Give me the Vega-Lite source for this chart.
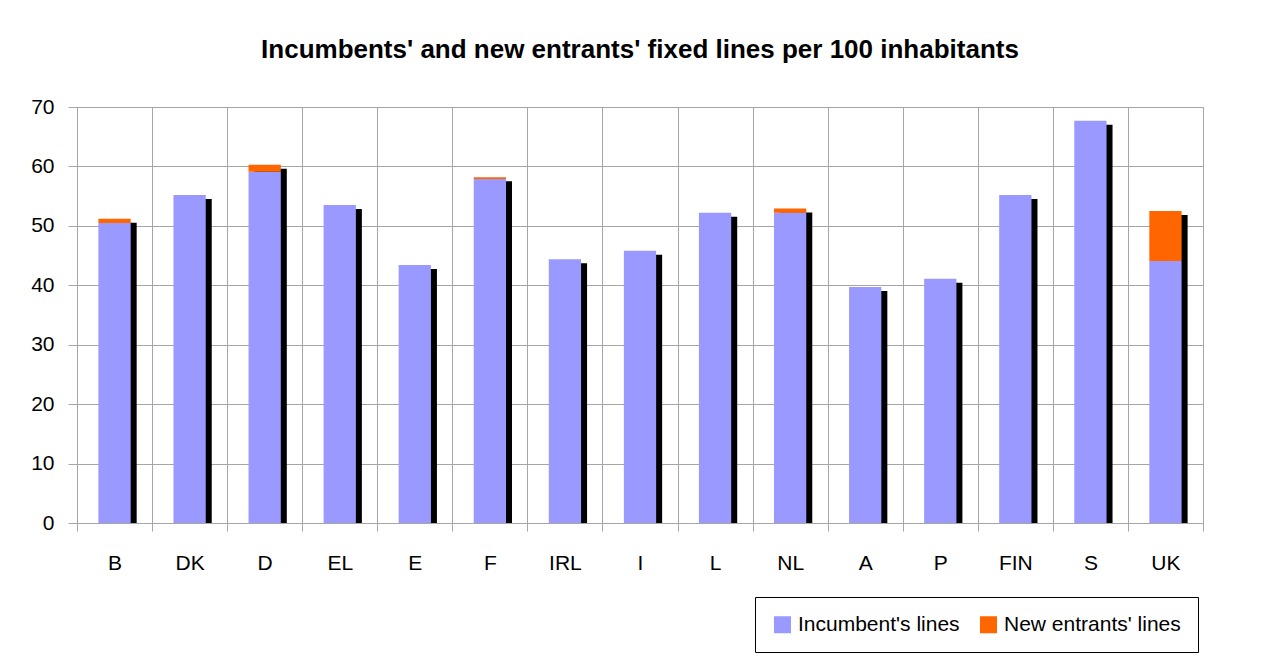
{
  "$schema": "https://vega.github.io/schema/vega-lite/v6.json",
  "width": 1126,
  "height": 416,
  "autosize": {"type": "none"},
  "padding": {"left": 77, "top": 107, "right": 62, "bottom": 141},
  "background": "white",
  "title": {
    "text": "Incumbents' and new entrants' fixed lines per 100 inhabitants",
    "font": "Liberation Sans",
    "fontSize": 26,
    "fontWeight": "bold",
    "color": "black",
    "anchor": "middle",
    "offset": 33
  },
  "config": {
    "view": {"stroke": "#a6a6a6", "strokeWidth": 1},
    "font": "Liberation Sans"
  },
  "data": {
    "values": [
      {"country": "B", "type": "Incumbent's lines", "value": 50.5},
      {"country": "B", "type": "New entrants' lines", "value": 0.7},
      {"country": "DK", "type": "Incumbent's lines", "value": 55.2},
      {"country": "DK", "type": "New entrants' lines", "value": 0},
      {"country": "D", "type": "Incumbent's lines", "value": 59.1},
      {"country": "D", "type": "New entrants' lines", "value": 1.2},
      {"country": "EL", "type": "Incumbent's lines", "value": 53.5},
      {"country": "EL", "type": "New entrants' lines", "value": 0},
      {"country": "E", "type": "Incumbent's lines", "value": 43.4},
      {"country": "E", "type": "New entrants' lines", "value": 0},
      {"country": "F", "type": "Incumbent's lines", "value": 57.9},
      {"country": "F", "type": "New entrants' lines", "value": 0.3},
      {"country": "IRL", "type": "Incumbent's lines", "value": 44.4},
      {"country": "IRL", "type": "New entrants' lines", "value": 0},
      {"country": "I", "type": "Incumbent's lines", "value": 45.8},
      {"country": "I", "type": "New entrants' lines", "value": 0},
      {"country": "L", "type": "Incumbent's lines", "value": 52.2},
      {"country": "L", "type": "New entrants' lines", "value": 0},
      {"country": "NL", "type": "Incumbent's lines", "value": 52.2},
      {"country": "NL", "type": "New entrants' lines", "value": 0.7},
      {"country": "A", "type": "Incumbent's lines", "value": 39.7},
      {"country": "A", "type": "New entrants' lines", "value": 0},
      {"country": "P", "type": "Incumbent's lines", "value": 41.1},
      {"country": "P", "type": "New entrants' lines", "value": 0},
      {"country": "FIN", "type": "Incumbent's lines", "value": 55.2},
      {"country": "FIN", "type": "New entrants' lines", "value": 0},
      {"country": "S", "type": "Incumbent's lines", "value": 67.7},
      {"country": "S", "type": "New entrants' lines", "value": 0},
      {"country": "UK", "type": "Incumbent's lines", "value": 44.1},
      {"country": "UK", "type": "New entrants' lines", "value": 8.4}
    ]
  },
  "encoding": {
    "x": {
      "field": "country",
      "type": "nominal",
      "sort": ["B", "DK", "D", "EL", "E", "F", "IRL", "I", "L", "NL", "A", "P", "FIN", "S", "UK"],
      "scale": {"paddingInner": 0, "paddingOuter": 0},
      "axis": {
        "title": null,
        "labelAngle": 0,
        "labelFontSize": 21,
        "labelColor": "black",
        "labelPadding": 21,
        "tickBand": "extent",
        "grid": true,
        "gridColor": "#a6a6a6",
        "tickColor": "#a6a6a6",
        "tickSize": 8,
        "domainColor": "#a6a6a6"
      }
    }
  },
  "layer": [
    {
      "transform": [
        {"aggregate": [{"op": "sum", "field": "value", "as": "total"}], "groupby": ["country"]}
      ],
      "mark": {"type": "bar", "color": "black", "xOffset": 6, "yOffset": 4, "clip": true, "width": {"band": 0.43}},
      "encoding": {
        "y": {"field": "total", "type": "quantitative", "scale": {"domain": [0, 70], "nice": false}}
      }
    },
    {
      "mark": {"type": "bar", "width": {"band": 0.43}},
      "encoding": {
        "y": {
          "field": "value",
          "type": "quantitative",
          "stack": "zero",
          "scale": {"domain": [0, 70], "nice": false},
          "axis": {
            "title": null,
            "values": [0, 10, 20, 30, 40, 50, 60, 70],
            "grid": true,
            "gridColor": "#a6a6a6",
            "tickColor": "#a6a6a6",
            "domainColor": "#a6a6a6",
            "tickSize": 9,
            "labelFontSize": 21,
            "labelColor": "black",
            "labelPadding": 14
          }
        },
        "order": {"field": "type", "sort": "ascending"},
        "color": {
          "field": "type",
          "type": "nominal",
          "scale": {"domain": ["Incumbent's lines", "New entrants' lines"], "range": ["#9999FF", "#FF6600"]},
          "legend": {
            "title": null,
            "orient": "none",
            "legendX": 678,
            "legendY": 490,
            "direction": "horizontal",
            "strokeColor": "black",
            "fillColor": "white",
            "padding": 17,
            "symbolType": "square",
            "symbolSize": 289,
            "symbolStrokeWidth": 0,
            "symbolOpacity": 1,
            "labelFontSize": 21,
            "labelLimit": 0,
            "labelColor": "black",
            "labelOffset": 5,
            "columnPadding": 18
          }
        }
      }
    }
  ]
}
